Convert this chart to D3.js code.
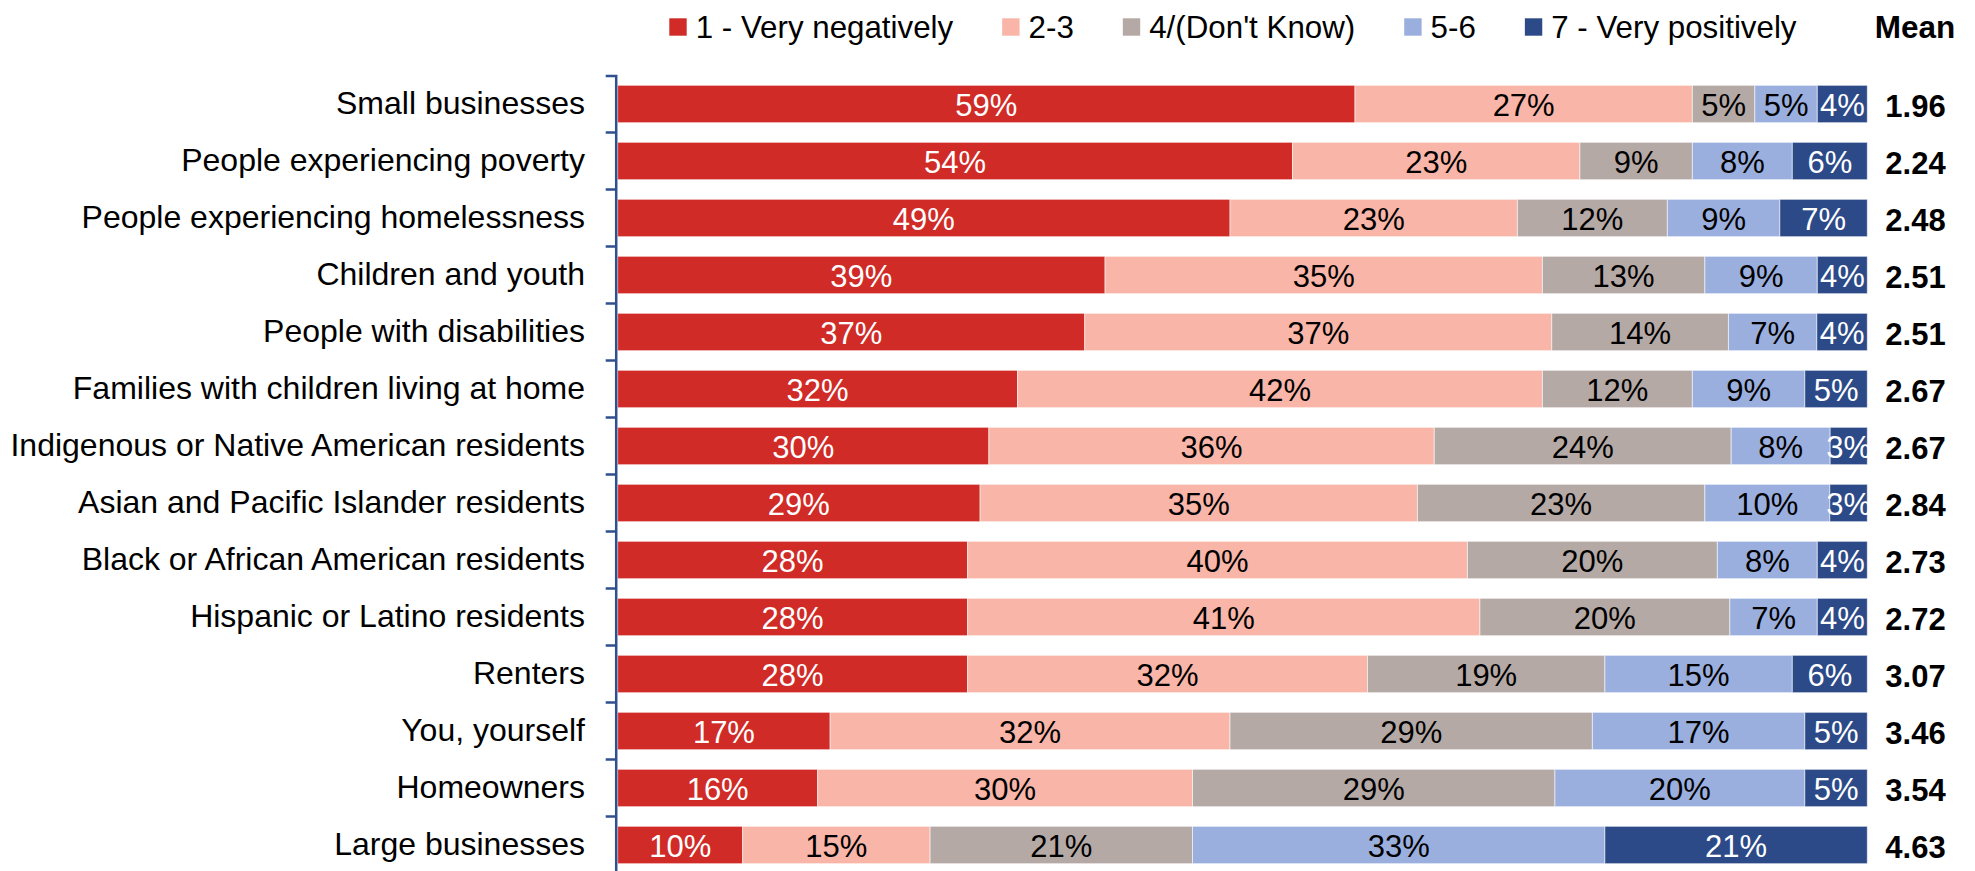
<!DOCTYPE html>
<html>
<head>
<meta charset="utf-8">
<script src="https://cdn.jsdelivr.net/npm/d3@7"></script>
<style>
  html, body { margin: 0; padding: 0; background: #fff; }
  svg { display: block; font-family: "Liberation Sans", Arial, Helvetica, sans-serif; }
</style>
</head>
<body>
<svg id="chart" width="1975" height="871"></svg>
<script>
// ---------------- DATA ----------------
const categories = [
  "Small businesses",
  "People experiencing poverty",
  "People experiencing homelessness",
  "Children and youth",
  "People with disabilities",
  "Families with children living at home",
  "Indigenous or Native American residents",
  "Asian and Pacific Islander residents",
  "Black or African American residents",
  "Hispanic or Latino residents",
  "Renters",
  "You, yourself",
  "Homeowners",
  "Large businesses"
];
const seriesNames = ["1 - Very negatively", "2-3", "4/(Don't Know)", "5-6", "7 - Very positively"];
const veryNegative = [59, 54, 49, 39, 37, 32, 30, 29, 28, 28, 28, 17, 16, 10];
const twoThree     = [27, 23, 23, 35, 37, 42, 36, 35, 40, 41, 32, 32, 30, 15];
const fourDK       = [ 5,  9, 12, 13, 14, 12, 24, 23, 20, 20, 19, 29, 29, 21];
const fiveSix      = [ 5,  8,  9,  9,  7,  9,  8, 10,  8,  7, 15, 17, 20, 33];
const veryPositive = [ 4,  6,  7,  4,  4,  5,  3,  3,  4,  4,  6,  5,  5, 21];
const means = ["1.96", "2.24", "2.48", "2.51", "2.51", "2.67", "2.67", "2.84", "2.73", "2.72", "3.07", "3.46", "3.54", "4.63"];
const meanHeader = "Mean";

// ---------------- STYLE ----------------
const colors = ["#D02B27", "#F8B5A8", "#B5A9A6", "#9BAFDE", "#2C4A88"];
const labelColors = ["#ffffff", "#000000", "#000000", "#000000", "#ffffff"];
const axisColor = "#2F4F8F";

const svg = d3.select("#chart");

const seriesValues = [veryNegative, twoThree, fourDK, fiveSix, veryPositive];
const rows = categories.map((c, i) => {
  const vals = seriesValues.map(s => s[i]);
  const total = d3.sum(vals);
  let acc = 0;
  const segs = vals.map((v, k) => {
    const s = { key: k, value: v, x0: acc / total, x1: (acc + v) / total };
    acc += v;
    return s;
  });
  return { cat: c, segs, mean: means[i] };
});

const x = d3.scaleLinear().domain([0, 1]).range([617.7, 1867.3]);
const y = d3.scaleBand().domain(categories).range([75.5, 75.5 + 14 * 57])
  .paddingInner(0.345).paddingOuter(0.1725);

// bars
const rowG = svg.append("g").selectAll("g.row").data(rows).join("g")
  .attr("class", "row")
  .attr("transform", d => `translate(0,${y(d.cat)})`);

rowG.selectAll("rect").data(d => d.segs).join("rect")
  .attr("x", d => x(d.x0))
  .attr("width", d => x(d.x1) - x(d.x0))
  .attr("y", 0)
  .attr("height", y.bandwidth())
  .attr("fill", d => colors[d.key])
  .attr("stroke", "#ffffff")
  .attr("stroke-opacity", 0.55)
  .attr("stroke-width", 1);

rowG.selectAll("text.pct").data(d => d.segs).join("text")
  .attr("class", "pct")
  .attr("x", d => (x(d.x0) + x(d.x1)) / 2)
  .attr("y", y.bandwidth() / 2 + 12.5)
  .attr("text-anchor", "middle")
  .attr("font-size", "31px")
  .attr("fill", d => labelColors[d.key])
  .text(d => d.value + "%");

// mean values
rowG.append("text")
  .attr("x", 1915.5)
  .attr("y", y.bandwidth() / 2 + 13.5)
  .attr("text-anchor", "middle")
  .attr("font-size", "31px")
  .attr("font-weight", "bold")
  .attr("fill", "#000")
  .text(d => d.mean);

// y axis
const axisG = svg.append("g")
  .attr("transform", "translate(615.7,0)")
  .call(d3.axisLeft(y).tickSizeInner(0).tickSizeOuter(10).tickPadding(30.7));
axisG.select(".domain").attr("stroke", axisColor).attr("stroke-width", 2.5);
axisG.selectAll(".tick text")
  .attr("font-size", "32px")
  .attr("font-family", "'Liberation Sans', Arial, sans-serif")
  .attr("fill", "#000");
// band boundary ticks
const boundaries = d3.range(1, categories.length).map(i => y.range()[0] + i * y.step());
axisG.selectAll("line.bound").data(boundaries).join("line")
  .attr("class", "bound")
  .attr("x1", -10).attr("x2", 0)
  .attr("y1", d => d).attr("y2", d => d)
  .attr("stroke", axisColor).attr("stroke-width", 2.5);

// legend
const leg = svg.append("g");
let cx = 669.3;
seriesNames.forEach((name, k) => {
  leg.append("rect")
    .attr("x", cx).attr("y", 18.3).attr("width", 17.4).attr("height", 17.4)
    .attr("fill", colors[k]);
  const t = leg.append("text")
    .attr("x", cx + 17.4 + 9)
    .attr("y", 37.7)
    .attr("font-size", "31.3px")
    .attr("fill", "#000")
    .text(name);
  cx = cx + 17.4 + 9 + t.node().getComputedTextLength() + 49;
});
svg.append("text")
  .attr("x", 1915)
  .attr("y", 37.7)
  .attr("text-anchor", "middle")
  .attr("font-size", "31.5px")
  .attr("font-weight", "bold")
  .attr("fill", "#000")
  .text(meanHeader);
</script>
</body>
</html>
